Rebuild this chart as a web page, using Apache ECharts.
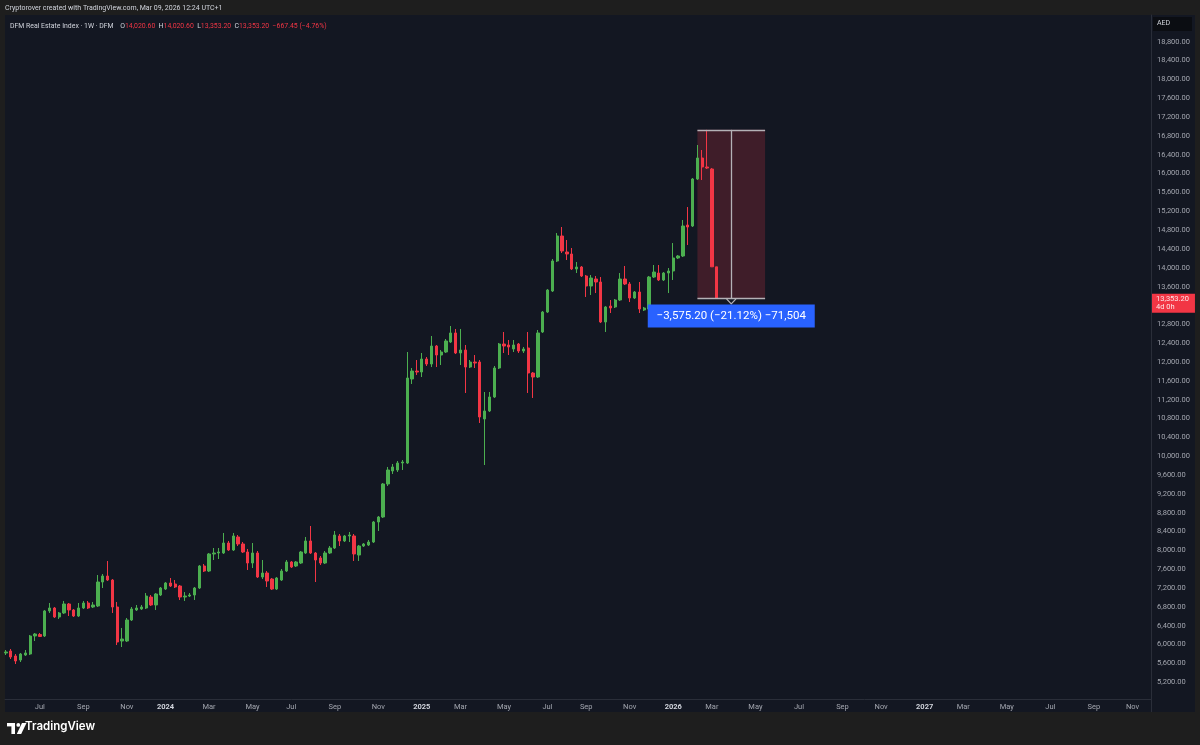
<!DOCTYPE html>
<html><head><meta charset="utf-8">
<script src="https://cdn.jsdelivr.net/npm/echarts@6/dist/echarts.min.js"></script>
<style>
html,body{margin:0;padding:0;background:#1e1e1e;overflow:hidden;}
#panel{position:absolute;left:5px;top:15px;width:1190px;height:697px;background:#131722;}
#chart{position:absolute;left:0;top:0;width:1200px;height:745px;}
</style></head><body>
<div id="panel"></div><div id="chart"></div>
<script>
// ---------- DATA ----------
const lastWeek = '2026-03-09';           // week of the final (current) candle
// weekly candles: [open, close, low, high]
const weeklyOHLC = [
[5822,5843,5779,5885],[5864,5737,5694,5906],[5758,5652,5588,5800],[5673,5800,5630,5822],
[5779,5822,5758,5885],[5800,6183,5779,6204],[6183,6225,6076,6246],[6215,6172,6161,6246],
[6183,6714,6161,6735],[6714,6777,6671,6883],[6777,6586,6565,6798],[6586,6671,6544,6692],
[6671,6862,6650,6926],[6862,6735,6607,6883],[6735,6607,6586,6756],[6607,6777,6586,6883],
[6777,6883,6756,6926],[6883,6777,6756,6926],[6798,6841,6777,6905],[6820,7329,6798,7477],
[7329,7456,7201,7499],[7456,7371,7350,7775],[7371,6798,6671,7392],[6798,6055,5991,6905],
[6076,6119,5949,6353],[6076,6522,6055,6565],[6522,6756,6501,6798],[6735,6777,6714,6841],
[6756,6798,6735,6841],[6777,7031,6756,7095],[7010,6841,6820,7053],[6841,7074,6735,7095],
[7053,7201,7031,7223],[7180,7308,7159,7329],[7308,7244,7223,7414],[7286,7223,7201,7371],
[7244,7010,6947,7265],[7010,7031,6926,7116],[7031,7053,7010,7095],[7053,7201,6947,7223],
[7201,7669,7180,7690],[7669,7562,7541,7711],[7562,7924,7541,7945],[7924,7945,7796,8051],
[7945,7966,7817,8051],[7945,8157,7924,8370],[8157,8008,7987,8200],[8008,8306,7987,8370],
[8285,8136,8093,8327],[8136,7966,7945,8178],[7966,7732,7584,8030],[7732,7945,7626,8157],
[7945,7435,7414,7987],[7435,7520,7392,7796],[7520,7350,7223,7562],[7392,7180,7159,7414],
[7180,7414,7159,7435],[7371,7562,7350,7605],[7562,7754,7541,7796],[7754,7647,7626,7775],
[7669,7754,7647,7775],[7732,7966,7711,7987],[7945,8200,7924,8285],[8200,7945,7924,8518],
[7945,7796,7329,7966],[7839,7732,7690,7881],[7732,7945,7711,7987],[7945,8051,7924,8093],
[8051,8327,8030,8412],[8306,8200,8093,8348],[8200,8306,8178,8327],[8306,8327,8178,8391],
[8306,7924,7775,8348],[7902,8093,7775,8115],[8093,8136,8072,8157],[8115,8178,8093,8221],
[8178,8603,8157,8624],[8603,8709,8412,8730],[8709,9410,8688,9431],[9410,9707,9367,9771],
[9686,9771,9622,9834],[9707,9855,9665,9898],[9855,9877,9707,9919],[9855,11660,9834,12212],
[11639,11808,11533,11872],[11808,11787,11724,12042],[11787,12063,11681,12191],[12063,11957,11915,12106],
[11957,12339,11893,12552],[12339,12148,11893,12361],[12148,12212,11936,12254],[12212,12446,12191,12488],
[12424,12616,12403,12764],[12616,12191,12169,12701],[12191,12254,11936,12701],[12254,11893,11342,12361],
[11893,11999,11872,12042],[11999,11978,11872,12148],[11999,10832,10705,12042],[10790,10960,9813,11363],
[10960,11257,10938,11363],[11257,11872,11236,11915],[11872,12382,11851,12403],[12382,12339,12191,12637],
[12361,12318,12148,12467],[12276,12361,12212,12467],[12382,12233,12191,12403],[12233,12276,12191,12318],
[12297,11766,11342,12637],[11766,11681,11236,11787],[11681,12616,11660,12679],[12637,13061,12616,13082],
[13061,13528,13040,13549],[13507,14144,13486,14186],[14144,14675,14123,14738],[14675,14357,14314,14866],
[14335,14293,14165,14590],[14293,13974,13953,14420],[13974,14017,13889,14123],[14017,13826,13804,14038],
[13826,13613,13380,13847],[13613,13783,13422,13847],[13762,13698,13464,13826],[13698,12849,12827,13804],
[12849,13168,12637,13188],[13188,13146,13040,13316],[13168,13316,13146,13337],[13316,13762,13295,13889],
[13762,13656,13634,14038],[13656,13358,13273,13698],[13358,13486,13337,13507],[13486,13125,13040,13698],
[13104,13146,13082,13168],[13125,13804,13104,13826],[13804,13910,13783,14059],[13889,13741,13719,14059],
[13741,13889,13719,13910],[13889,13932,13464,13995],[13932,14208,13741,14526],[14208,14250,14186,14271],
[14250,14887,14229,15014],[14908,14866,14484,15290],[14887,15885,14866,15906],[15885,16331,15864,16607],
[16331,16140,15864,16501],[16140,16118,16097,16928.4],[16097,14020.6,14020.6,16118],[14020.6,13353.2,13353.2,14020.6]
];
const priceTicks = [5200,5600,6000,6400,6800,7200,7600,8000,8400,8800,9200,9600,10000,10400,10800,11200,
  11600,12000,12400,12800,13200,13600,14000,14400,14800,15200,15600,16000,16400,16800,17200,17600,18000,18400,18800];
const monthTicks = ['2023-07-03','2023-09-04','2023-11-06','2024-01-01','2024-03-04','2024-05-06','2024-07-01',
  '2024-09-02','2024-11-04','2025-01-06','2025-03-03','2025-05-05','2025-07-07','2025-09-01','2025-11-03',
  '2026-01-05','2026-03-02','2026-05-04','2026-07-06','2026-09-07','2026-11-02','2027-01-04','2027-03-01',
  '2027-05-03','2027-07-05','2027-09-06','2027-11-01'];
const monthNames = ['Jan','Feb','Mar','Apr','May','Jun','Jul','Aug','Sep','Oct','Nov','Dec'];
const lastClose = 13353.20;
const rangeHigh = 16928.40;
const rangeStart = '2026-02-09', rangeMid = '2026-03-30', rangeEnd = '2026-05-18';
const measureText = '\u22123,575.20 (\u221221.12%) \u221271,504';
const titleLine = 'Cryptorover created with TradingView.com, Mar 09, 2026 12:24 UTC+1';
const legendParts = {name:'DFM Real Estate Index \u00b7 1W \u00b7 DFM', o:'14,020.60', h:'14,020.60', l:'13,353.20', c:'13,353.20', chg:'\u2212667.45 (\u22124.76%)'};

// ---------- BUILD ----------
function toTime(s){ const p = s.split('-').map(Number); return new Date(p[0], p[1]-1, p[2]).getTime(); }
const DAY = 86400000;
const lastT = toTime(lastWeek);
const n = weeklyOHLC.length;
const candleData = weeklyOHLC.map((r, i) => [lastT - (n-1-i)*7*DAY, r[0], r[1], r[2], r[3]]);
const axisStart = new Date(2023,4,13,13).getTime();
const axisEnd = new Date(2027,10,27,17).getTime();
const UP = '#4caf50', DOWN = '#f23645';
const fmt = v => v.toLocaleString('en-US',{minimumFractionDigits:2, maximumFractionDigits:2});
const chevron = 'path://M5,0 L10,5 L10,6.6 L5,1.6 L0,6.6 L0,5 Z';
const boxLine = {color:'#b4b1b6', width:1.3, type:'solid', opacity:1};

const chart = echarts.init(document.getElementById('chart'), null, {renderer:'canvas'});
chart.setOption({
  animation:false,
  backgroundColor:'transparent',
  textStyle:{fontFamily:'Roboto, sans-serif'},
  grid:{left:5, right:49, top:15, bottom:46, containLabel:false},
  xAxis:{
    type:'value', min:axisStart, max:axisEnd, scale:true,
    axisLine:{show:true, lineStyle:{color:'#2a2e39'}},
    axisTick:{show:false}, splitLine:{show:false},
    axisLabel:{
      customValues: monthTicks.map(toTime),
      color:'#a3a6af', fontSize:7.5, margin:4,
      formatter: v => { const d = new Date(v); return d.getMonth()===0 ? '{y|'+d.getFullYear()+'}' : monthNames[d.getMonth()]; },
      rich:{y:{fontWeight:'bold', color:'#d1d4dc', fontSize:7.5}}
    }
  },
  yAxis:{
    type:'value', position:'right', min:4845, max:19367, scale:true,
    axisLine:{show:true, lineStyle:{color:'#2a2e39'}},
    axisTick:{show:false}, splitLine:{show:false},
    axisLabel:{customValues: priceTicks, formatter: fmt, color:'#a3a6af', fontSize:7.5, margin:6, align:'left'}
  },
  series:[{
    type:'candlestick',
    data:candleData,
    encode:{x:0, y:[1,2,3,4]},
    barWidth:2.8,
    itemStyle:{color:UP, color0:DOWN, borderColor:UP, borderColor0:DOWN, borderWidth:1},
    markArea:{
      silent:true,
      itemStyle:{color:'rgba(242,54,69,0.2)'},
      data:[[{coord:[toTime(rangeStart), rangeHigh]}, {coord:[toTime(rangeEnd), lastClose]}]]
    },
    markLine:{
      silent:true, symbol:['none','none'], animation:false,
      label:{show:false},
      data:[
        [{coord:[toTime(rangeStart), rangeHigh], lineStyle:boxLine}, {coord:[toTime(rangeEnd), rangeHigh]}],
        [{coord:[toTime(rangeStart), lastClose], lineStyle:boxLine}, {coord:[toTime(rangeEnd), lastClose]}],
        [{coord:[toTime(rangeMid), rangeHigh], lineStyle:boxLine, symbol:'none'},
         {coord:[toTime(rangeMid), lastClose], symbol:chevron, symbolSize:[10,7], symbolOffset:[0,-3]}]
      ]
    },
    markPoint:{
      silent:true, animation:false,
      data:[{coord:[toTime(rangeMid), 12976], symbol:'rect', symbolSize:[167,23],
        itemStyle:{color:'#2962ff', borderRadius:3},
        label:{show:true, position:'inside', formatter:measureText, color:'#ffffff', fontSize:11.5}}]
    }
  },{
    // current price tag on the price scale
    type:'line', data:[], silent:true,
    markLine:{
      silent:true, symbol:['none','none'], animation:false,
      lineStyle:{color:'rgba(0,0,0,0)', width:1},
      data:[{yAxis:lastClose,
        label:{show:true, position:'end', distance:1, offset:[0,5], formatter: fmt(lastClose)+'\n4d 0h',
          backgroundColor:DOWN, color:'#fde6e8', fontSize:7.5, lineHeight:8.5, padding:[1,6,1,4]}}]
    }
  }],
  graphic:[
    {type:'text', left:5, top:5, style:{text:titleLine, fill:'#d1d4dc', font:'7px Roboto'}},
    {type:'text', left:10, top:20, style:{
      text:'{a|'+legendParts.name+'}  {a|O}{r|'+legendParts.o+'} {a|H}{r|'+legendParts.h+'} {a|L}{r|'+legendParts.l+'} {a|C}{r|'+legendParts.c+'} {r|'+legendParts.chg+'}',
      rich:{a:{fill:'#d1d4dc', fontSize:6.9, fontFamily:'Roboto'}, r:{fill:'#f23645', fontSize:6.9, fontFamily:'Roboto'}}}},
    {type:'rect', shape:{x:1153, y:17, width:39, height:14}, style:{fill:'#0b0d12'}},
    {type:'text', left:1157, top:20, style:{text:'AED', fill:'#d1d4dc', font:'7px Roboto'}},
    {type:'line', shape:{x1:1151.5, y1:699, x2:1151.5, y2:712}, style:{stroke:'#2a2e39', lineWidth:1}},
    {type:'group', left:7, top:723, children:[
      {type:'rect', shape:{x:0, y:0, width:8, height:3.4}, style:{fill:'#ffffff'}},
      {type:'rect', shape:{x:4.4, y:0, width:3.6, height:11}, style:{fill:'#ffffff'}},
      {type:'circle', shape:{cx:11.3, cy:1.9, r:1.9}, style:{fill:'#ffffff'}},
      {type:'polygon', shape:{points:[[15,0],[19.5,0],[14.2,11],[9.8,11]]}, style:{fill:'#ffffff'}}
    ]},
    {type:'text', left:25, top:721, style:{text:'TradingView', fill:'#ffffff', font:'600 11.5px Inter'}}
  ]
});
</script></body></html>
